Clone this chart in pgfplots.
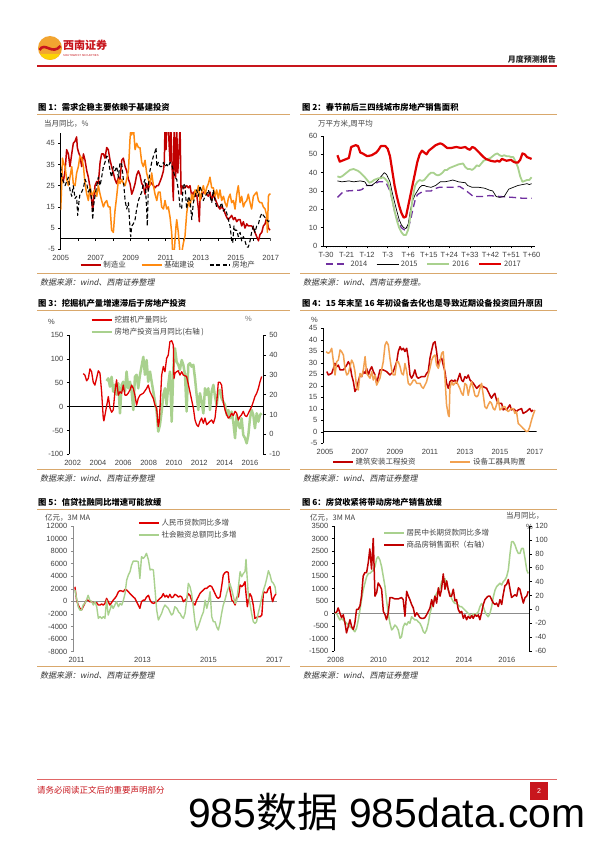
\documentclass[border=0pt]{standalone}
\usepackage{fontspec}
\usepackage{graphicx}
\setmainfont{Liberation Sans}
\newfontfamily\cjk{Noto Sans CJK SC}
\newfontfamily\cjkit{Noto Sans CJK SC}[FakeSlant=0.2]
\usepackage{pgfplots}
\pgfplotsset{compat=1.18}
\newcommand\fs[1]{\fontsize{#1}{#1}\selectfont}
\definecolor{cRedA}{HTML}{C00000}
\definecolor{cRedB}{HTML}{E00000}
\definecolor{cOrgA}{HTML}{FF8A10}
\definecolor{cOrgB}{HTML}{F2A150}
\definecolor{cGrn}{HTML}{A9D18E}
\definecolor{cPur}{HTML}{7030A0}
\definecolor{cTan}{HTML}{D9A86C}
\definecolor{cHdr}{HTML}{C8161D}
\definecolor{cTxt}{HTML}{404040}
\definecolor{cLogoO}{HTML}{F2A531}
\definecolor{cFoot}{HTML}{E06666}
\pgfplotsset{
  legend image code/.code={\draw[#1] (0bp,0bp) -- (20bp,0bp);},
  base/.style={scale only axis, anchor=south west, tick align=outside,
    major tick length=2.5bp, minor tick length=1.5bp,
    tick style={black, line width=0.5bp},
    axis line style={black, line width=0.6bp},
    tick label style={font=\fs{7.5bp}, text=cTxt},
    /pgf/number format/assume math mode=true,
    /pgf/number format/1000 sep={},
    scaled ticks=false,
    legend style={draw=none, fill=none, font=\cjk\fs{7.5bp}, text=cTxt, inner sep=0pt},
    legend cell align=left,
    every axis plot/.append style={line join=round}},
}
\begin{document}
\begin{tikzpicture}
\path[use as bounding box] (0,0) rectangle (596bp,842bp);
\fill[white] (0,0) rectangle (596bp,842bp);
\begin{scope}[x=1bp,y=1bp]
% header
\fill[cLogoO] (50,794) circle (12);
\fill[yellow!70!orange] (50,794) ++(-10,-6) arc (210:330:11.5) -- cycle;
\draw[cHdr, line width=2.6] (39.5,792) .. controls (45,801) and (52,786) .. (60.5,796);
\node[anchor=west, text=cHdr, font=\cjk\bfseries\fs{11bp}, inner sep=0] at (63,797) {西南证券};
\node[anchor=west, text=cHdr, font=\fs{2.8bp}, inner sep=0] at (63,786.5) {SOUTHWEST SECURITIES};
\node[anchor=east, font=\cjk\bfseries\fs{8bp}, text=black!85, inner sep=0] at (556,783) {月度预测报告};
\draw[cHdr, line width=1.1] (37,776) -- (557,776);
% titles row 1
\node[anchor=west, font=\cjk\bfseries\fs{8.3bp}, inner sep=0] at (38,735) {图 1：需求企稳主要依赖于基建投资};
\node[anchor=west, font=\cjk\bfseries\fs{8.3bp}, inner sep=0] at (302,735) {图 2：春节前后三四线城市房地产销售面积};
\draw[cTan, line width=0.8] (37,728) -- (290,728);
\draw[cTan, line width=0.8] (300,728) -- (557,728);
\draw[cTan, line width=0.8] (37,569) -- (290,569);
\draw[cTan, line width=0.8] (300,569) -- (557,569);
\node[anchor=west, font=\cjkit\fs{8bp}, text=black!80, inner sep=0] at (40,560) {数据来源：wind、西南证券整理};
\node[anchor=west, font=\cjkit\fs{8bp}, text=black!80, inner sep=0] at (303,560) {数据来源：wind、西南证券整理。};
% row 2
\node[anchor=west, font=\cjk\bfseries\fs{8.3bp}, inner sep=0] at (38,539) {图 3：挖掘机产量增速滞后于房地产投资};
\node[anchor=west, font=\cjk\bfseries\fs{8.3bp}, inner sep=0] at (302,539) {图 4：15 年末至 16 年初设备去化也是导致近期设备投资回升原因};
\draw[cTan, line width=0.8] (37,532) -- (290,532);
\draw[cTan, line width=0.8] (300,532) -- (557,532);
\draw[cTan, line width=0.8] (37,373) -- (290,373);
\draw[cTan, line width=0.8] (300,373) -- (557,373);
\node[anchor=west, font=\cjkit\fs{8bp}, text=black!80, inner sep=0] at (40,364) {数据来源：wind、西南证券整理};
\node[anchor=west, font=\cjkit\fs{8bp}, text=black!80, inner sep=0] at (303,364) {数据来源：wind、西南证券整理};
% row 3
\node[anchor=west, font=\cjk\bfseries\fs{8.3bp}, inner sep=0] at (38,340) {图 5：信贷社融同比增速可能放缓};
\node[anchor=west, font=\cjk\bfseries\fs{8.3bp}, inner sep=0] at (302,340) {图 6：房贷收紧将带动房地产销售放缓};
\draw[cTan, line width=0.8] (37,333) -- (290,333);
\draw[cTan, line width=0.8] (300,333) -- (557,333);
\draw[cTan, line width=0.8] (37,176) -- (290,176);
\draw[cTan, line width=0.8] (300,176) -- (557,176);
\node[anchor=west, font=\cjkit\fs{8bp}, text=black!80, inner sep=0] at (40,167) {数据来源：wind、西南证券整理};
\node[anchor=west, font=\cjkit\fs{8bp}, text=black!80, inner sep=0] at (303,167) {数据来源：wind、西南证券整理};
% unit labels
\node[anchor=west, font=\cjk\fs{7.5bp}, text=cTxt, inner sep=0] at (44,718) {当月同比，\%};
\node[anchor=west, font=\cjk\fs{7.5bp}, text=cTxt, inner sep=0] at (318,718) {万平方米,周平均};
\node[anchor=west, font=\fs{7.5bp}, text=cTxt, inner sep=0] at (48,520) {\%};
\node[anchor=west, font=\fs{7.5bp}, text=cTxt!70, inner sep=0] at (245,523) {\%};
\node[anchor=west, font=\fs{7.5bp}, text=cTxt, inner sep=0] at (311,522) {\%};
\node[anchor=west, font=\cjk\fs{7.5bp}, text=cTxt, inner sep=0] at (45,324) {亿元，3M MA};
\node[anchor=west, font=\cjk\fs{7.5bp}, text=cTxt, inner sep=0] at (310,324) {亿元，3M MA};
\node[anchor=west, font=\cjk\fs{7.5bp}, text=cTxt, inner sep=0] at (506,326) {当月同比，};
\node[anchor=west, font=\fs{7.5bp}, text=cTxt, inner sep=0] at (526,315) {\%};
% footer
\draw[cFoot, line width=1] (37,63) -- (557,63);
\node[anchor=west, text=cHdr, font=\cjk\fs{8.5bp}, inner sep=0] at (37,52) {请务必阅读正文后的重要声明部分};
\fill[cHdr] (530,42) rectangle (548,60);
\node[white, font=\fs{7bp}] at (539,51) {2};
\node[anchor=west, inner sep=0] at (188,30) {\resizebox{397bp}{!}{\fs{42bp}985{\cjk 数据} 985data.com}};
\end{scope}

% ===== Chart 1 =====
\begin{axis}[base, at={(60.7bp,592.7bp)}, width=210bp, height=116.6bp,
  xmin=2005, xmax=2017, ymin=-5, ymax=50,
  axis y line*=left, axis x line*=bottom, x axis line style={draw=none}, xtick style={draw=none},
  xtick={2005,2007,...,2017}, ytick={-5,5,...,45},
  legend columns=3, legend style={at={(0.513,-0.135)}, anchor=center,
    /tikz/every even column/.append style={column sep=13bp}}]
\draw[black, line width=0.6bp] (axis cs:2005,0) -- (axis cs:2017,0);
\pgfplotsinvokeforeach{2006,2007,2008,2009,2010,2011,2012,2013,2014,2015,2016,2017}{\draw[black, line width=0.5bp] (axis cs:#1,0) -- ++(0bp,-2bp);}
\addplot[cRedA, line width=1.5bp] coordinates {(2005.00,26)(2005.10,29)(2005.15,27)(2005.25,32)(2005.34,42)(2005.44,40)(2005.53,34)(2005.63,40)(2005.72,45)(2005.82,46)(2005.91,48)(2005.95,43)(2006.01,41)(2006.10,39)(2006.20,34)(2006.30,40)(2006.39,37)(2006.49,32)(2006.58,29)(2006.68,24)(2006.77,18)(2006.83,13)(2006.87,18)(2006.96,25)(2007.06,27)(2007.15,26)(2007.25,36)(2007.34,40)(2007.44,40)(2007.53,38)(2007.63,43)(2007.72,42)(2007.82,37)(2007.91,34)(2008.01,31)(2008.10,28)(2008.20,26)(2008.30,29)(2008.39,28)(2008.49,37)(2008.58,38)(2008.68,34)(2008.77,32)(2008.87,28)(2008.96,26)(2009.06,21)(2009.15,23)(2009.25,26)(2009.34,30)(2009.44,32)(2009.53,30)(2009.63,26)(2009.72,25)(2009.82,21)(2009.91,26)(2010.01,23)(2010.10,27)(2010.20,26)(2010.30,25)(2010.39,24)(2010.49,25)(2010.58,25)(2010.68,27)(2010.77,29)(2010.87,32)(2010.92,36)(2010.96,53)(2011.02,42)(2011.06,53)(2011.15,53)(2011.21,42)(2011.25,36)(2011.29,53)(2011.34,42)(2011.40,25)(2011.44,18)(2011.48,53)(2011.53,42)(2011.57,29)(2011.63,53)(2011.69,31)(2011.76,42)(2011.82,53)(2011.88,21)(2011.91,25)(2012.01,24)(2012.10,24)(2012.20,25)(2012.30,24)(2012.39,25)(2012.49,20)(2012.58,22)(2012.68,20)(2012.77,21)(2012.87,14)(2012.92,8)(2012.96,18)(2013.06,20)(2013.15,22)(2013.25,22)(2013.34,21)(2013.44,20)(2013.53,22)(2013.63,18)(2013.72,21)(2013.82,19)(2013.91,17)(2014.01,15)(2014.10,14)(2014.20,15)(2014.30,14)(2014.39,12)(2014.49,10)(2014.58,9)(2014.68,10)(2014.77,11)(2014.87,9)(2014.96,10)(2015.06,8)(2015.15,9)(2015.25,9)(2015.34,6)(2015.44,8)(2015.53,5)(2015.63,7)(2015.72,6)(2015.82,6)(2015.91,6)(2016.01,5)(2016.10,3)(2016.20,1)(2016.30,-1)(2016.39,2)(2016.49,3)(2016.58,6)(2016.68,7)(2016.77,10)(2016.87,5)(2016.96,4)};
\addlegendentry{制造业}
\addplot[cOrgA, line width=1.5bp] coordinates {(2005.00,13.5)(2005.06,26)(2005.10,38)(2005.15,36)(2005.25,34)(2005.34,28)(2005.44,25)(2005.53,29)(2005.63,34)(2005.72,26)(2005.82,25)(2005.91,31)(2006.01,34)(2006.10,39)(2006.20,38)(2006.30,34)(2006.39,26)(2006.49,21)(2006.58,18)(2006.68,25)(2006.77,20)(2006.87,22)(2006.96,23)(2007.06,20)(2007.15,25)(2007.25,21)(2007.34,18)(2007.44,15)(2007.53,17)(2007.63,18)(2007.72,15)(2007.82,15)(2007.91,4)(2008.01,3)(2008.10,13)(2008.20,20)(2008.30,28)(2008.39,26)(2008.49,28)(2008.58,26)(2008.68,25)(2008.77,28)(2008.87,32)(2008.96,47)(2009.02,53)(2009.06,49)(2009.15,53)(2009.25,42)(2009.34,45)(2009.44,43)(2009.53,43)(2009.63,36)(2009.72,34)(2009.82,37)(2009.91,31)(2010.01,28)(2010.10,25)(2010.20,31)(2010.30,25)(2010.39,21)(2010.49,18)(2010.58,22)(2010.68,22)(2010.77,15)(2010.87,14)(2010.96,18)(2011.06,14)(2011.15,15)(2011.25,10)(2011.34,3)(2011.40,-7)(2011.48,-7)(2011.53,-1)(2011.59,6)(2011.63,9)(2011.72,3)(2011.82,-7)(2011.91,-7)(2012.01,-2)(2012.10,1)(2012.20,12)(2012.30,18)(2012.39,15)(2012.49,21)(2012.58,18)(2012.68,23)(2012.77,21)(2012.87,25)(2012.96,18)(2013.06,22)(2013.15,25)(2013.25,21)(2013.34,24)(2013.44,26)(2013.53,29)(2013.63,24)(2013.72,24)(2013.82,20)(2013.91,23)(2014.01,19)(2014.10,23)(2014.20,18)(2014.30,20)(2014.39,17)(2014.49,15)(2014.58,19)(2014.68,21)(2014.77,17)(2014.87,18)(2014.96,14)(2015.06,21)(2015.15,25)(2015.25,17)(2015.34,20)(2015.44,15)(2015.53,17)(2015.63,18)(2015.72,21)(2015.82,17)(2015.91,14)(2016.01,20)(2016.10,21)(2016.20,22)(2016.30,18)(2016.39,17)(2016.49,17)(2016.58,15)(2016.68,14)(2016.77,11)(2016.81,3)(2016.87,20)(2016.92,21)(2017.00,21)};
\addlegendentry{基础建设}
\addplot[black, line width=1.1bp, dash pattern=on 4bp off 2.5bp] coordinates {(2005.00,34)(2005.06,29)(2005.15,27)(2005.25,25)(2005.34,27)(2005.44,29)(2005.53,23)(2005.63,20)(2005.72,25)(2005.82,19)(2005.91,20)(2005.97,11)(2006.05,18)(2006.10,21)(2006.20,22)(2006.30,24)(2006.39,28)(2006.49,26)(2006.58,22)(2006.68,24)(2006.77,18)(2006.83,9)(2006.87,15)(2006.96,20)(2007.06,25)(2007.15,29)(2007.25,25)(2007.34,29)(2007.44,34)(2007.53,36)(2007.63,39)(2007.72,38)(2007.82,32)(2007.91,29)(2008.01,34)(2008.10,32)(2008.20,34)(2008.30,29)(2008.39,36)(2008.49,35)(2008.58,28)(2008.68,18)(2008.77,14)(2008.87,17)(2008.96,5)(2009.00,1)(2009.06,6)(2009.15,7)(2009.25,9)(2009.34,14)(2009.44,18)(2009.53,20)(2009.63,22)(2009.72,26)(2009.82,28)(2009.91,14)(2009.95,6)(2010.01,25)(2010.10,32)(2010.20,36)(2010.30,39)(2010.39,41)(2010.45,43)(2010.49,34)(2010.58,36)(2010.68,34)(2010.77,34)(2010.87,36)(2010.96,34)(2011.06,35)(2011.15,34)(2011.25,36)(2011.34,35)(2011.44,32)(2011.53,29)(2011.63,28)(2011.72,23)(2011.82,15)(2011.91,14)(2012.01,26)(2012.10,25)(2012.20,14)(2012.30,20)(2012.39,18)(2012.49,9)(2012.58,17)(2012.68,20)(2012.77,23)(2012.87,20)(2012.96,25)(2013.06,22)(2013.15,18)(2013.25,20)(2013.34,21)(2013.44,23)(2013.53,20)(2013.63,17)(2013.72,23)(2013.82,18)(2013.91,15)(2014.01,15)(2014.10,15)(2014.20,17)(2014.30,13)(2014.39,14)(2014.49,12)(2014.58,9)(2014.68,6)(2014.77,-1)(2014.83,-2)(2014.90,6)(2014.96,4)(2015.06,4)(2015.15,1)(2015.25,3)(2015.34,-1)(2015.44,1)(2015.53,-1)(2015.63,-4)(2015.72,-4)(2015.82,-1)(2015.91,3)(2016.01,6)(2016.10,3)(2016.20,6)(2016.30,7)(2016.39,10)(2016.49,12)(2016.58,11)(2016.68,10)(2016.77,9)(2016.87,8)(2016.96,9)};
\addlegendentry{房地产}
\end{axis}

% ===== Chart 2 =====
\begin{axis}[base, at={(323.3bp,596bp)}, width=211.7bp, height=110bp,
  xmin=-31.2, xmax=61.5, ymin=0, ymax=60,
  axis y line*=left, axis x line*=bottom,
  xtick={-30,-21,...,60}, xticklabels={T-30,T-21,T-12,T-3,T+6,T+15,T+24,T+33,T+42,T+51,T+60},
  minor x tick num=8, ytick={0,10,...,60},
  legend columns=4, legend style={at={(0.476,-0.164)}, anchor=center,
    /tikz/every even column/.append style={column sep=7bp}},
  legend image code/.code={\draw[#1] (0bp,0bp) -- (22bp,0bp);}]
\addplot[cPur, line width=1.3bp, dash pattern=on 7bp off 4bp] coordinates {(-25,26.5)(-23,29)(-21,30)(-15,30.5)(-14,31)(-13,33)(-10,33)(-7,35)(-5,35)(-3.5,34)(-2,30)(-1,25)(0,19)(1,15)(2,12)(3,10)(4,9)(5,8.5)(6,10)(7,14)(8,20)(9,25)(10,28)(12,29.5)(14,30)(16,30)(17,31)(19.5,32)(25.5,32)(28.5,32.5)(31.5,30)(34.5,27)(39,27)(41.5,27.5)(46,27)(52,26.5)(56.5,26)(60,26)};
\addlegendentry{2014}
\addplot[black, line width=0.7bp] coordinates {(-25,35.5)(-23,35)(-20,35.5)(-18,35)(-15,35.5)(-13,35)(-12,33)(-10,33)(-8,35)(-6.5,37)(-4.5,40)(-3.5,39)(-2,35)(-1,29)(0,24)(1,19)(2,14.5)(3,11.5)(4,10)(5,9.5)(6,12)(7,20)(8,25)(9,28)(10,30)(11,32)(12,33)(13,33)(14,32.5)(16,32)(17,32.5)(18,33)(20,35)(22,35)(24,35.5)(25.5,36)(28,35)(31,34.5)(32,33)(34,32)(37,32)(39.5,31.5)(41.5,30.5)(43,30)(44.5,27)(46,26.5)(48,27)(50,31)(52,32)(54,33)(56,33.5)(58,34)(59,33.5)(60,34)};
\addlegendentry{2015}
\addplot[cGrn, line width=1.8bp] coordinates {(-25,38)(-24,37.5)(-23,38)(-21,40)(-19.5,41.5)(-18,42)(-16,41)(-15,40)(-13,37.5)(-12,36)(-11,34.5)(-10,35)(-9,36)(-7,37)(-6,37)(-5,37.5)(-4,36.5)(-3,35)(-2,31)(-1,25)(0,19)(1,14)(2,10)(3,7.5)(4,6)(5,6)(6,9)(7,17)(8,27)(9,33)(10,35)(11,36)(12,35.5)(13,36)(14,37.5)(15,39)(16,40)(17,40)(18,39)(19,38.5)(20,39)(21,40)(22,41.5)(23,41.5)(24,42.5)(26,43.5)(28,44.5)(30,45)(31,43)(32,42)(33,42)(34,41.5)(35,42.5)(36,44)(37,43.5)(38,45)(39,46.5)(40,47)(41,47.5)(42,48)(43,49)(44,50)(45,50.5)(46,49.5)(47,49)(48,49.5)(49,49)(50,49)(51,48.5)(52,48.5)(53,46)(54,43)(55,38)(56,35)(57,35.5)(58,36)(59,36)(60,37.5)};
\addlegendentry{2016}
\addplot[cRedB, line width=2.2bp] coordinates {(-25,49.5)(-24,46)(-22,47)(-20,48)(-19,54)(-17,55)(-16,54.5)(-15,51)(-14,50.5)(-12,49)(-10,49.5)(-8,51)(-7,52.5)(-6,54.5)(-4,54.5)(-3,53)(-2,49)(-1,41)(0,33)(1,27)(2,22)(3,18)(4,15.5)(5,16)(6,22)(7,28)(8,34)(9,40)(10,46)(11,50)(12,52)(13,51)(14,50)(15,52)(16,53)(17,54)(18,55)(19,55.5)(20,56)(21,55.5)(22,54.5)(23,53.5)(25,53.5)(27,54)(29,53.5)(31,54)(32,53)(33,52.5)(34,54)(35,53.5)(37,51)(39,48.5)(40,47.5)(42,46.5)(44,46)(45,46.5)(46,46)(47,47.5)(48,47)(49,46.5)(51,47)(52,46)(53,45.5)(54,45.5)(55,47)(56,50.5)(57,50)(58,48.5)(59,48)(60,47.5)};
\addlegendentry{2017}
\end{axis}

% ===== Chart 3 =====
\begin{axis}[base, at={(69.3bp,387.7bp)}, width=194bp, height=119.3bp,
  xmin=2001.74, xmax=2017.05, ymin=-10, ymax=50,
  axis y line*=right, axis x line=none, ytick={-10,0,...,50}]
\draw[black, line width=0.6bp] (axis cs:2001.74,14) -- (axis cs:2017.05,14);
\addplot[cGrn, line width=2.5bp] coordinates {(2004.68,26.9)(2004.82,28.2)(2004.95,24)(2005.08,29)(2005.21,21.5)(2005.34,25)(2005.47,20)(2005.61,25.7)(2005.74,10.6)(2005.87,24.9)(2006.00,26.5)(2006.13,21.5)(2006.26,31.6)(2006.39,23.2)(2006.53,26.5)(2006.66,21.5)(2006.79,12.3)(2006.92,29)(2007.05,30)(2007.18,23.2)(2007.32,30)(2007.58,39)(2007.71,30)(2007.84,37.4)(2007.97,26.5)(2008.11,31.6)(2008.24,26.5)(2008.37,21.5)(2008.50,16.5)(2008.63,11.5)(2008.76,1.4)(2008.89,4.7)(2009.03,11.5)(2009.16,19.9)(2009.29,23.2)(2009.42,14.8)(2009.55,24.9)(2009.68,31.6)(2009.82,6.4)(2009.95,33)(2010.08,43.3)(2010.21,36.6)(2010.34,35)(2010.47,32.5)(2010.61,37.4)(2010.74,35)(2010.87,30)(2011.00,11.5)(2011.13,35)(2011.26,35.8)(2011.39,34.1)(2011.53,35)(2011.66,28.2)(2011.79,19.9)(2011.92,12.3)(2012.05,20.7)(2012.18,16.5)(2012.32,10.6)(2012.45,23.2)(2012.58,19.9)(2012.71,23.2)(2012.84,12.3)(2012.97,21.5)(2013.11,24.9)(2013.24,19)(2013.37,14.8)(2013.50,21.5)(2013.63,22.4)(2013.76,18.2)(2013.89,16.5)(2014.03,14.8)(2014.16,9.8)(2014.29,12.3)(2014.42,8.1)(2014.55,11.5)(2014.68,6.4)(2014.82,-1.9)(2014.95,9.8)(2015.08,4.7)(2015.21,3.1)(2015.34,8.1)(2015.47,-0.3)(2015.61,-1.9)(2015.74,-4.5)(2015.87,-0.3)(2016.00,8.1)(2016.13,12.3)(2016.26,9.8)(2016.39,3.1)(2016.53,10.6)(2016.66,6.4)(2016.79,9.8)(2016.92,10.6)};
\end{axis}
\begin{axis}[base, at={(69.3bp,387.7bp)}, width=194bp, height=119.3bp,
  xmin=2001.74, xmax=2017.05, ymin=-100, ymax=150,
  axis y line*=left, axis x line*=bottom, x axis line style={draw=none}, xtick style={draw=none},
  xtick={2002,2004,...,2016}, ytick={-100,-50,...,150},
  legend style={at={(0.107,1.176)}, anchor=north west}]
\addplot[cRedB, line width=1.3bp] coordinates {(2002.84,69)(2002.97,66)(2003.11,54)(2003.24,59)(2003.37,79)(2003.50,73)(2003.63,51)(2003.76,45)(2003.89,59)(2004.03,75)(2004.16,70)(2004.29,31)(2004.42,-24)(2004.47,-30)(2004.63,-7)(2004.82,21)(2004.95,-3)(2005.08,-12)(2005.21,-7)(2005.34,31)(2005.47,56)(2005.61,24)(2005.74,31)(2005.87,28)(2006.00,45)(2006.13,24)(2006.26,24)(2006.39,28)(2006.53,35)(2006.66,45)(2006.79,38)(2006.92,24)(2007.05,3)(2007.18,17)(2007.32,24)(2007.58,28)(2007.84,38)(2007.97,45)(2008.11,31)(2008.37,17)(2008.50,3)(2008.63,-3)(2008.76,-42)(2008.84,-31)(2008.95,24)(2009.03,66)(2009.16,84)(2009.29,73)(2009.42,101)(2009.55,108)(2009.68,136)(2009.82,138)(2009.95,129)(2010.00,59)(2010.08,70)(2010.21,73)(2010.34,75)(2010.47,66)(2010.61,73)(2010.74,66)(2011.00,63)(2011.26,31)(2011.53,-3)(2011.66,-28)(2011.79,-38)(2011.92,-42)(2012.05,-31)(2012.18,-24)(2012.32,-35)(2012.45,-24)(2012.58,-38)(2012.84,-31)(2012.97,-28)(2013.11,-35)(2013.24,-24)(2013.37,7)(2013.50,51)(2013.63,51)(2013.76,45)(2013.89,10)(2014.03,-7)(2014.16,-17)(2014.29,-24)(2014.42,-21)(2014.55,-14)(2014.68,-19)(2014.82,-10)(2014.95,-14)(2015.08,-28)(2015.21,-21)(2015.34,-17)(2015.47,-10)(2015.61,-19)(2015.74,-21)(2015.87,-14)(2016.00,-7)(2016.13,0)(2016.26,10)(2016.39,21)(2016.53,28)(2016.66,38)(2016.79,52)(2016.92,63)};
\addlegendentry{挖掘机产量同比}
\addlegendimage{cGrn, line width=2.5bp}
\addlegendentry{房地产投资当月同比(右轴 )}
\end{axis}

% ===== Chart 4 =====
\begin{axis}[base, at={(323.3bp,398.7bp)}, width=213.3bp, height=115bp,
  xmin=2004.9, xmax=2017.1, ymin=-5, ymax=45,
  axis y line*=left, axis x line*=bottom, x axis line style={draw=none}, xtick style={draw=none},
  xtick={2005,2007,...,2017}, ytick={-5,0,...,45},
  legend columns=2, legend style={at={(0.5,-0.163)}, anchor=center,
    /tikz/every even column/.append style={column sep=32bp}}]
\draw[black, line width=0.6bp] (axis cs:2004.9,0) -- (axis cs:2017.1,0);
\addplot[cRedA, line width=1.5bp] coordinates {(2005.10,26.2)(2005.19,24.7)(2005.38,25.4)(2005.48,27.6)(2005.57,29.8)(2005.67,28.3)(2005.76,29)(2005.86,26.9)(2006.05,26.9)(2006.24,29)(2006.33,30.5)(2006.43,29)(2006.52,24.7)(2006.62,21.8)(2006.71,17.5)(2006.81,18.9)(2006.90,21.8)(2007.00,24.7)(2007.10,24)(2007.19,26.2)(2007.29,25.4)(2007.38,27.6)(2007.48,24.7)(2007.57,26.9)(2007.67,28.3)(2007.76,26.2)(2007.86,24.7)(2007.95,21.1)(2008.05,24)(2008.14,26.9)(2008.33,26.9)(2008.52,26.2)(2008.71,24.7)(2008.90,26.2)(2009.10,30.5)(2009.19,34.9)(2009.29,37)(2009.38,35.6)(2009.48,36.3)(2009.57,34.9)(2009.67,36.3)(2009.76,32)(2009.86,24.7)(2009.95,23.3)(2010.05,24.7)(2010.14,26.9)(2010.24,24)(2010.33,23.3)(2010.52,24)(2010.71,24)(2010.81,25.4)(2010.90,26.2)(2011.00,32)(2011.10,35.6)(2011.19,38.5)(2011.29,39.2)(2011.38,34.9)(2011.48,28.3)(2011.57,31.2)(2011.67,32)(2011.76,29)(2011.86,26.2)(2011.95,21.1)(2012.05,18.9)(2012.14,21.8)(2012.24,22.5)(2012.33,21.8)(2012.43,22.5)(2012.52,21.1)(2012.62,23.3)(2012.71,25.4)(2012.81,22.5)(2012.90,21.8)(2013.00,24)(2013.10,23.3)(2013.19,24.7)(2013.29,22.5)(2013.48,21.1)(2013.67,18.9)(2013.86,20.3)(2014.05,19.6)(2014.24,18.9)(2014.43,15.9)(2014.52,14.6)(2014.62,15.9)(2014.71,16.7)(2014.81,13.8)(2014.90,12.4)(2015.10,12.4)(2015.19,9.5)(2015.29,10.1)(2015.38,9.5)(2015.57,11.7)(2015.67,9.5)(2015.76,10.1)(2015.95,8.8)(2016.05,9.5)(2016.24,10.1)(2016.33,8)(2016.52,8.8)(2016.71,10.1)(2016.81,8.8)(2016.90,9.5)};
\addlegendentry{建筑安装工程投资}
\addplot[cOrgB, line width=1.5bp] coordinates {(2005.06,34.8)(2005.19,34.1)(2005.29,34.8)(2005.38,36.3)(2005.48,30.5)(2005.57,24.7)(2005.67,30.5)(2005.76,31.2)(2005.86,35.6)(2005.95,34.8)(2006.05,33.4)(2006.14,27.6)(2006.24,24.7)(2006.33,25.4)(2006.43,28.3)(2006.52,31.2)(2006.62,29.7)(2006.71,26.2)(2006.81,18.9)(2006.90,18.2)(2007.00,25.4)(2007.10,24)(2007.19,26.9)(2007.29,32.7)(2007.38,25.4)(2007.57,23.3)(2007.67,26.2)(2007.76,22.5)(2007.86,24.7)(2007.95,20.3)(2008.14,23.3)(2008.33,30.5)(2008.43,37.7)(2008.52,39.2)(2008.62,37.7)(2008.71,32)(2008.81,26.9)(2008.90,24.7)(2009.00,24.7)(2009.10,30.5)(2009.19,30.5)(2009.29,28.3)(2009.38,25.4)(2009.48,24.7)(2009.57,29.7)(2009.67,26.2)(2009.76,21.1)(2009.86,20.3)(2009.95,21.1)(2010.05,22.5)(2010.14,22.5)(2010.24,21.1)(2010.43,21.1)(2010.52,19.6)(2010.62,18.9)(2010.81,21.8)(2010.90,24.7)(2011.00,27.6)(2011.10,31.2)(2011.19,32.7)(2011.29,33.4)(2011.38,29)(2011.48,27.6)(2011.57,30.5)(2011.67,34.1)(2011.76,34.8)(2011.80,30.5)(2011.86,23.3)(2011.95,11.7)(2012.05,7.3)(2012.10,6.6)(2012.14,18.9)(2012.24,21.8)(2012.33,20.3)(2012.52,21.8)(2012.62,20.3)(2012.71,18.9)(2012.81,16.7)(2012.90,15.9)(2013.00,21.1)(2013.10,20.3)(2013.19,15.9)(2013.29,19.6)(2013.38,21.8)(2013.48,18.9)(2013.57,15.9)(2013.67,15.2)(2013.76,15.9)(2013.86,18.9)(2013.95,21.1)(2014.05,15.9)(2014.14,10.9)(2014.24,10.1)(2014.33,11.7)(2014.43,13.1)(2014.52,12.4)(2014.62,10.1)(2014.71,9.5)(2014.81,11.7)(2014.90,14.6)(2015.00,9.5)(2015.10,10.1)(2015.19,10.9)(2015.29,10.9)(2015.38,9.5)(2015.48,8.8)(2015.57,9.5)(2015.67,10.1)(2015.76,10.1)(2015.86,8)(2015.95,8.8)(2016.05,3.6)(2016.14,3)(2016.24,2.2)(2016.33,1.5)(2016.43,0.8)(2016.52,0.1)(2016.62,0.4)(2016.71,2.2)(2016.81,5.1)(2016.90,7.3)(2017.00,9.5)};
\addlegendentry{设备工器具购置}
\end{axis}

% ===== Chart 5 =====
\begin{axis}[base, at={(73.3bp,190.3bp)}, width=203.7bp, height=125.7bp,
  xmin=2010.9, xmax=2017.08, ymin=-8000, ymax=12000,
  axis y line*=left, axis x line*=bottom, x axis line style={draw=none}, xtick style={draw=none},
  y axis line style={black!45}, ytick style={black!45},
  xtick={2011,2013,2015,2017}, ytick={-8000,-6000,...,12000},
  legend style={at={(0.318,1.072)}, anchor=north west}]
\draw[black!45, line width=0.6bp] (axis cs:2010.9,0) -- (axis cs:2017.08,0);
\addplot[cRedB, line width=1.4bp] coordinates {(2010.95,2330)(2011.00,200)(2011.05,-575)(2011.10,-1100)(2011.15,-1370)(2011.20,-840)(2011.25,-310)(2011.30,200)(2011.35,200)(2011.40,-40)(2011.46,-40)(2011.51,-310)(2011.61,-200)(2011.66,-575)(2011.71,-575)(2011.76,-410)(2011.81,-575)(2011.86,-310)(2011.91,490)(2011.96,-40)(2012.01,-575)(2012.06,-200)(2012.11,200)(2012.16,490)(2012.21,860)(2012.27,1550)(2012.32,1710)(2012.37,1660)(2012.42,1550)(2012.47,1920)(2012.52,1820)(2012.57,1550)(2012.62,1240)(2012.67,970)(2012.72,700)(2012.77,490)(2012.82,-40)(2012.87,-575)(2012.92,-1100)(2012.97,-40)(2013.02,200)(2013.07,200)(2013.12,700)(2013.18,970)(2013.23,200)(2013.28,-200)(2013.33,-310)(2013.38,-200)(2013.43,-40)(2013.48,200)(2013.53,490)(2013.58,700)(2013.63,1240)(2013.68,700)(2013.73,970)(2013.78,600)(2013.83,1130)(2013.88,600)(2013.93,700)(2013.98,1130)(2014.04,970)(2014.09,700)(2014.14,860)(2014.19,700)(2014.24,-40)(2014.29,200)(2014.34,490)(2014.39,1240)(2014.44,970)(2014.49,200)(2014.54,-310)(2014.59,-575)(2014.64,200)(2014.69,700)(2014.74,1240)(2014.79,1550)(2014.85,1820)(2014.90,2080)(2014.95,2080)(2015.00,2350)(2015.05,2500)(2015.10,2350)(2015.15,1820)(2015.20,1240)(2015.25,700)(2015.30,490)(2015.35,700)(2015.40,2350)(2015.45,4200)(2015.50,4570)(2015.55,4730)(2015.60,4620)(2015.65,1820)(2015.71,200)(2015.76,-40)(2015.81,-575)(2015.86,700)(2015.91,700)(2015.96,2620)(2016.01,2350)(2016.06,2620)(2016.11,3140)(2016.14,1240)(2016.18,-840)(2016.21,200)(2016.26,1240)(2016.31,700)(2016.36,-575)(2016.41,-2700)(2016.46,-2540)(2016.51,-2430)(2016.57,-2430)(2016.62,-2170)(2016.67,1550)(2016.72,1400)(2016.77,1400)(2016.82,2080)(2016.87,2350)(2016.92,490)(2016.95,-40)(2016.99,700)(2017.02,970)(2017.05,1240)};
\addlegendentry{人民币贷款同比多增}
\addplot[cGrn, line width=1.4bp] coordinates {(2010.95,1820)(2011.00,490)(2011.05,-840)(2011.10,-1380)(2011.15,-1380)(2011.20,-575)(2011.25,-310)(2011.30,200)(2011.35,970)(2011.40,200)(2011.46,-40)(2011.51,-575)(2011.56,-40)(2011.61,-840)(2011.66,-2700)(2011.71,-2430)(2011.76,-2700)(2011.81,-2430)(2011.86,-2700)(2011.91,200)(2011.96,-2170)(2012.01,-1380)(2012.06,-575)(2012.11,-1100)(2012.16,-575)(2012.21,-40)(2012.27,-840)(2012.32,-310)(2012.37,-575)(2012.42,200)(2012.47,1240)(2012.52,3400)(2012.57,4200)(2012.62,4730)(2012.67,5790)(2012.72,6420)(2012.77,6420)(2012.82,6420)(2012.87,6320)(2012.92,3660)(2012.97,7120)(2013.02,6850)(2013.07,7120)(2013.12,7650)(2013.18,6600)(2013.23,5000)(2013.28,5100)(2013.33,5000)(2013.38,1820)(2013.43,-1380)(2013.48,-2960)(2013.53,-2430)(2013.58,-1900)(2013.63,-1100)(2013.68,-575)(2013.73,-840)(2013.78,-1100)(2013.83,-1640)(2013.88,-2170)(2013.93,-1900)(2013.98,-840)(2014.04,-1100)(2014.09,-1640)(2014.14,-1900)(2014.19,-2430)(2014.24,-2700)(2014.29,-1900)(2014.34,200)(2014.39,2880)(2014.44,2350)(2014.49,1240)(2014.54,-840)(2014.59,-3230)(2014.64,-4560)(2014.69,-4040)(2014.74,-3230)(2014.79,-2430)(2014.85,-1640)(2014.90,200)(2014.95,-1100)(2015.00,-40)(2015.05,1550)(2015.10,-2430)(2015.15,-3230)(2015.20,-3230)(2015.25,-4040)(2015.30,-4560)(2015.35,-3500)(2015.40,-1900)(2015.45,-575)(2015.50,200)(2015.55,1240)(2015.60,2080)(2015.65,2880)(2015.71,1820)(2015.76,700)(2015.81,-310)(2015.86,200)(2015.91,2350)(2015.96,4730)(2016.01,3930)(2016.06,4460)(2016.11,4730)(2016.14,6700)(2016.18,3400)(2016.21,970)(2016.26,-310)(2016.31,-1900)(2016.36,-3230)(2016.41,-3500)(2016.46,-3230)(2016.51,-1900)(2016.57,-575)(2016.62,700)(2016.67,1820)(2016.72,2620)(2016.77,3660)(2016.82,4890)(2016.87,4200)(2016.92,3140)(2016.97,2880)(2017.02,2350)(2017.05,1240)};
\addlegendentry{社会融资总额同比多增}
\end{axis}

% ===== Chart 6 =====
\begin{axis}[base, at={(334.3bp,191bp)}, width=195bp, height=125bp,
  xmin=2007.94, xmax=2017.05, ymin=-1500, ymax=3500,
  axis y line*=left, axis x line*=bottom, x axis line style={draw=none}, xtick style={draw=none},
  xtick={2008,2010,...,2016}, ytick={-1500,-1000,...,3500}]
\draw[black!45, line width=0.6bp] (axis cs:2007.94,0) -- (axis cs:2017.05,0);
\addplot[cGrn, line width=1.5bp] coordinates {(2007.97,33)(2008.05,0)(2008.12,-130)(2008.20,-260)(2008.28,-200)(2008.36,-260)(2008.44,-330)(2008.51,-390)(2008.59,-460)(2008.67,-530)(2008.75,-590)(2008.83,-660)(2008.90,-730)(2008.98,-590)(2009.06,-260)(2009.14,140)(2009.21,540)(2009.29,940)(2009.37,1210)(2009.45,1470)(2009.53,1600)(2009.60,1600)(2009.68,1670)(2009.76,1740)(2009.84,1870)(2009.92,2200)(2009.99,2270)(2010.07,2140)(2010.15,1870)(2010.23,1470)(2010.31,1070)(2010.38,540)(2010.46,0)(2010.54,-390)(2010.62,-660)(2010.69,-590)(2010.77,-460)(2010.85,-530)(2010.93,-660)(2011.01,-990)(2011.08,-930)(2011.16,-530)(2011.24,-390)(2011.32,-460)(2011.40,-330)(2011.47,-390)(2011.55,-130)(2011.63,-200)(2011.71,-260)(2011.79,-260)(2011.86,-330)(2011.94,-390)(2012.02,-530)(2012.10,-730)(2012.17,-790)(2012.25,-660)(2012.33,-390)(2012.41,0)(2012.49,270)(2012.56,470)(2012.64,670)(2012.72,800)(2012.80,940)(2012.88,1000)(2012.95,1270)(2013.03,1340)(2013.11,1400)(2013.19,1140)(2013.26,940)(2013.34,800)(2013.42,600)(2013.50,470)(2013.58,400)(2013.65,400)(2013.73,340)(2013.81,270)(2013.89,270)(2013.97,200)(2014.04,140)(2014.12,70)(2014.20,0)(2014.28,-60)(2014.36,-130)(2014.43,0)(2014.51,-60)(2014.59,0)(2014.67,70)(2014.74,270)(2014.82,400)(2014.90,270)(2014.98,70)(2015.06,-60)(2015.13,-130)(2015.21,0)(2015.29,270)(2015.37,670)(2015.45,940)(2015.52,1070)(2015.60,1140)(2015.68,1210)(2015.76,1140)(2015.83,1270)(2015.91,1340)(2015.99,1470)(2016.07,1740)(2016.15,2400)(2016.22,2870)(2016.30,2870)(2016.38,2740)(2016.46,2540)(2016.54,2400)(2016.61,2400)(2016.69,2600)(2016.77,2600)(2016.85,2200)(2016.93,1740)(2017.00,1600)};
\end{axis}
\begin{axis}[base, at={(334.3bp,191bp)}, width=195bp, height=125bp,
  xmin=2007.94, xmax=2017.05, ymin=-60, ymax=120,
  axis y line*=right, axis x line=none, ytick={-60,-40,...,120},
  legend style={at={(0.25,0.992)}, anchor=north west}]
\addlegendimage{cGrn, line width=1.5bp}
\addlegendentry{居民中长期贷款同比多增}
\addplot[cRedA, line width=1.5bp] coordinates {(2007.97,-5)(2008.05,-4)(2008.12,2)(2008.20,-5)(2008.28,-12)(2008.36,-8)(2008.44,-20)(2008.51,-34)(2008.59,-25)(2008.67,-15)(2008.75,-25)(2008.83,-29)(2008.90,-20)(2008.98,0)(2009.06,0)(2009.14,5)(2009.21,19)(2009.29,48)(2009.37,53)(2009.45,53)(2009.53,68)(2009.60,87)(2009.68,58)(2009.76,102)(2009.84,19)(2009.92,24)(2009.99,38)(2010.07,34)(2010.15,29)(2010.23,-3)(2010.31,-8)(2010.38,-15)(2010.46,-5)(2010.54,17)(2010.62,17)(2010.77,15)(2010.93,15)(2011.08,17)(2011.16,14)(2011.24,-10)(2011.32,26)(2011.40,19)(2011.47,14)(2011.55,7)(2011.63,2)(2011.71,-10)(2011.79,-5)(2011.86,-8)(2011.94,-12)(2012.02,-13)(2012.10,-13)(2012.17,-12)(2012.25,-8)(2012.33,-3)(2012.41,2)(2012.49,14)(2012.56,4)(2012.64,19)(2012.72,9)(2012.80,31)(2012.88,19)(2012.95,29)(2013.03,51)(2013.11,29)(2013.19,41)(2013.26,29)(2013.34,19)(2013.42,19)(2013.50,29)(2013.58,12)(2013.65,14)(2013.73,0)(2013.81,-5)(2013.89,-3)(2013.97,-13)(2014.04,-8)(2014.12,-15)(2014.20,-10)(2014.28,-13)(2014.36,-9)(2014.43,-13)(2014.51,-8)(2014.59,-10)(2014.67,-8)(2014.74,-15)(2014.82,-5)(2014.90,7)(2014.98,14)(2015.06,17)(2015.13,19)(2015.21,19)(2015.29,14)(2015.37,9)(2015.45,7)(2015.52,9)(2015.60,4)(2015.68,14)(2015.76,7)(2015.83,21)(2015.91,34)(2015.99,36)(2016.07,43)(2016.15,29)(2016.22,17)(2016.30,19)(2016.38,21)(2016.46,19)(2016.54,31)(2016.61,29)(2016.69,19)(2016.77,9)(2016.85,17)(2016.93,19)(2017.00,26)};
\addlegendentry{商品房销售面积（右轴）}
\end{axis}
\end{tikzpicture}
\end{document}
